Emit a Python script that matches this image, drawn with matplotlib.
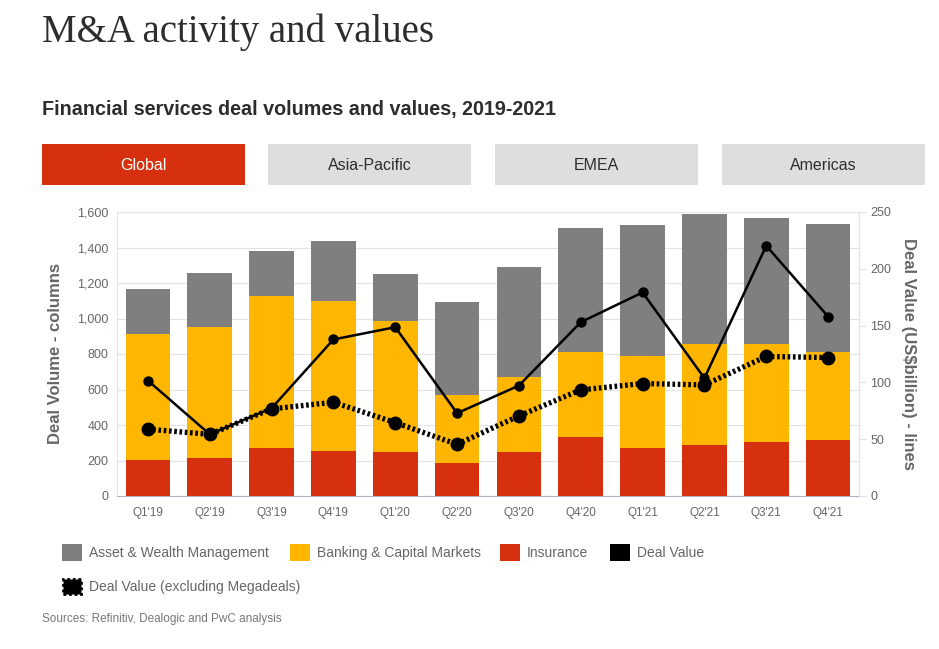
import numpy as np
import matplotlib.pyplot as plt
from matplotlib.patches import Rectangle

quarters = ["Q1'19", "Q2'19", "Q3'19", "Q4'19", "Q1'20", "Q2'20",
            "Q3'20", "Q4'20", "Q1'21", "Q2'21", "Q3'21", "Q4'21"]
insurance = [203, 216, 269, 256, 246, 186, 246, 331, 273, 288, 306, 316]
banking_top = [912, 953, 1128, 1096, 987, 570, 671, 812, 786, 859, 855, 810]
totals = [1167, 1259, 1383, 1438, 1252, 1092, 1291, 1511, 1524, 1590, 1564, 1532]
deal_value = [101.6, 54.3, 77.3, 137.8, 148.6, 72.9, 97.2, 153.0, 179.2, 103.7, 220.3, 158.0]
deal_value_ex = [58.8, 54.3, 76.7, 82.5, 64.6, 45.5, 70.5, 93.4, 99.0, 97.8, 122.8, 121.9]

banking = np.array(banking_top) - np.array(insurance)
awm = np.array(totals) - np.array(banking_top)

GRAY = '#7f7f7f'
YELLOW = '#ffb600'
RED = '#d6300f'
TXT = '#666666'

plt.rcParams['font.family'] = ['Liberation Sans', 'DejaVu Sans']

W, H = 939, 649
fig = plt.figure(figsize=(W / 100, H / 100), dpi=100)

fig.text(42 / W, 1 - 32 / H, 'M&A activity and values', family='Liberation Serif',
         fontsize=28, color='#2d2d2d', va='center', ha='left')
fig.text(42 / W, 1 - 110 / H, 'Financial services deal volumes and values, 2019-2021',
         fontsize=14.2, fontweight='bold', color='#2d2d2d', va='center', ha='left')

tabs = ['Global', 'Asia-Pacific', 'EMEA', 'Americas']
tab_x = [42, 268, 495, 722]
for i, (name, x0) in enumerate(zip(tabs, tab_x)):
    fc = RED if i == 0 else '#dedede'
    tc = 'white' if i == 0 else '#2d2d2d'
    fig.add_artist(Rectangle((x0 / W, 1 - 185 / H), 203 / W, 41 / H,
                             transform=fig.transFigure, facecolor=fc, edgecolor='none'))
    fig.text((x0 + 101.5) / W, 1 - 165 / H, name, color=tc, fontsize=11.5,
             ha='center', va='center')

ax = fig.add_axes([117 / W, 1 - 496 / H, (859 - 117) / W, (496 - 212) / H])
x = np.arange(len(quarters))
bw = 0.72
ax.bar(x, insurance, bw, color=RED, zorder=2)
ax.bar(x, banking, bw, bottom=insurance, color=YELLOW, zorder=2)
ax.bar(x, awm, bw, bottom=banking_top, color=GRAY, zorder=2)

ax.set_xlim(-0.5, len(quarters) - 0.5)
ax.set_ylim(0, 1600)
ax.set_yticks(np.arange(0, 1601, 200))
ax.set_yticklabels([f'{v:,}' for v in range(0, 1601, 200)])
ax.set_xticks(x)
ax.set_xticklabels(quarters)
ax.grid(axis='y', color='#e3e3e3', lw=0.8, zorder=0)
ax.tick_params(axis='both', colors=TXT, labelsize=8.5, length=0, pad=6)
ax.tick_params(axis='y', labelsize=9)
ax.tick_params(axis='x', pad=8)
ax.spines['top'].set_visible(False)
ax.spines['left'].set_color('#dde3ea')
ax.spines['right'].set_color('#dde3ea')
ax.spines['bottom'].set_color('#aab2bd')
ax.set_ylabel('Deal Volume - columns', fontsize=12, fontweight='bold', color=TXT, labelpad=10)

ax2 = ax.twinx()
ax2.set_ylim(0, 250)
ax2.set_yticks(np.arange(0, 251, 50))
ax2.tick_params(axis='y', colors=TXT, labelsize=9, length=5, width=0.8, pad=3)
ax2.tick_params(axis='y', color='#dde3ea')
for s in ['top', 'left', 'bottom']:
    ax2.spines[s].set_visible(False)
ax2.spines['right'].set_color('#dde3ea')
ax2.plot(x, deal_value, color='black', lw=1.8, marker='o', ms=6.5, zorder=4)
ax2.plot(x, deal_value_ex, color='black', lw=3.8, ls=(0, (0.5, 0.5)), marker='o', ms=9, zorder=3)
ax2.set_ylabel('Deal Value (US$billion) - lines', fontsize=12, fontweight='bold', color=TXT,
               rotation=270, labelpad=18)

# legend
leg1 = [(62, GRAY, 'Asset & Wealth Management'), (290, YELLOW, 'Banking & Capital Markets'),
        (500, RED, 'Insurance'), (610, 'black', 'Deal Value')]
for lx, c, lab in leg1:
    fig.add_artist(Rectangle((lx / W, 1 - 561 / H), 20 / W, 17 / H,
                             transform=fig.transFigure, facecolor=c, edgecolor='none'))
    fig.text((lx + 27) / W, 1 - 553 / H, lab, fontsize=10, color=TXT, va='center')
fig.add_artist(Rectangle((63 / W, 1 - 594 / H), 18 / W, 15 / H, transform=fig.transFigure,
                         facecolor='black', edgecolor='black', lw=2, ls=(0, (1, 1))))
fig.text(89 / W, 1 - 587 / H, 'Deal Value (excluding Megadeals)', fontsize=10,
         color=TXT, va='center')

fig.text(42 / W, 1 - 619 / H, 'Sources: Refinitiv, Dealogic and PwC analysis',
         fontsize=8.5, color='#777777', va='center')

fig.savefig('out.png', dpi=100, facecolor='white')
